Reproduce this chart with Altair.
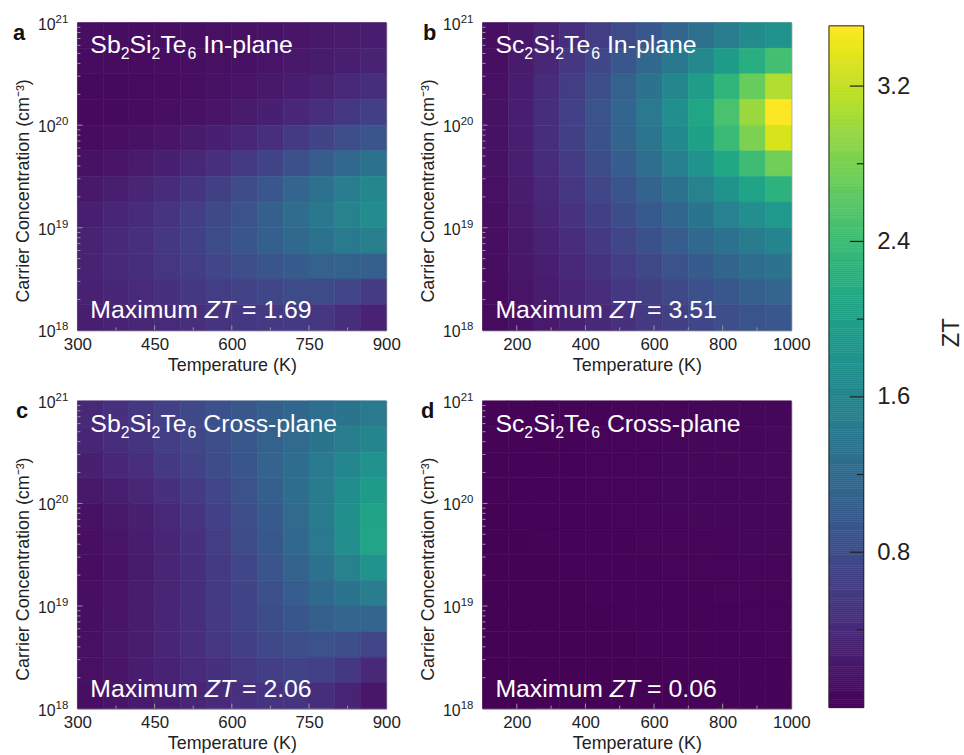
import altair as alt
import numpy as np
import pandas as pd

FONT = "Liberation Sans"
ZT_MAX = 3.51

# ---- data -------------------------------------------------------------
# cell centres: log10 carrier concentration (top row first)
logn_rows = [20.875, 20.625, 20.375, 20.125, 19.875, 19.625,
             19.375, 19.125, 18.875, 18.625, 18.375, 18.125]

# temperature cell centres (K)
temps_sb = [325, 375, 425, 475, 525, 575, 625, 675, 725, 775, 825, 875]
temps_sc = [137.5, 212.5, 287.5, 362.5, 437.5, 512.5,
            587.5, 662.5, 737.5, 812.5, 887.5, 962.5]

# ZT maps, one row per concentration, one column per temperature
zt_sb_in = [
    [0.12, 0.11, 0.11, 0.12, 0.13, 0.14, 0.15, 0.17, 0.19, 0.21, 0.24, 0.27],
    [0.10, 0.10, 0.10, 0.11, 0.12, 0.14, 0.16, 0.18, 0.21, 0.25, 0.29, 0.33],
    [0.08, 0.08, 0.09, 0.10, 0.12, 0.15, 0.18, 0.22, 0.27, 0.33, 0.40, 0.46],
    [0.07, 0.08, 0.10, 0.12, 0.15, 0.19, 0.24, 0.30, 0.38, 0.47, 0.56, 0.64],
    [0.10, 0.12, 0.15, 0.19, 0.24, 0.30, 0.38, 0.47, 0.58, 0.70, 0.82, 0.92],
    [0.15, 0.19, 0.24, 0.30, 0.38, 0.47, 0.58, 0.71, 0.86, 1.02, 1.18, 1.32],
    [0.22, 0.28, 0.35, 0.43, 0.53, 0.65, 0.79, 0.95, 1.12, 1.30, 1.48, 1.62],
    [0.28, 0.35, 0.43, 0.52, 0.63, 0.76, 0.90, 1.06, 1.23, 1.40, 1.56, 1.69],
    [0.32, 0.39, 0.47, 0.56, 0.66, 0.78, 0.91, 1.05, 1.19, 1.32, 1.43, 1.50],
    [0.33, 0.39, 0.46, 0.54, 0.62, 0.72, 0.82, 0.92, 1.01, 1.08, 1.10, 1.05],
    [0.31, 0.36, 0.42, 0.48, 0.55, 0.62, 0.68, 0.74, 0.78, 0.78, 0.72, 0.60],
    [0.28, 0.32, 0.37, 0.42, 0.47, 0.52, 0.56, 0.58, 0.58, 0.54, 0.46, 0.32],
]

zt_sc_in = [
    [0.12, 0.20, 0.32, 0.46, 0.62, 0.78, 0.95, 1.12, 1.30, 1.48, 1.66, 1.80],
    [0.13, 0.24, 0.38, 0.55, 0.74, 0.95, 1.17, 1.40, 1.65, 1.92, 2.20, 2.45],
    [0.14, 0.27, 0.43, 0.62, 0.84, 1.08, 1.34, 1.62, 1.94, 2.30, 2.70, 3.10],
    [0.15, 0.29, 0.46, 0.66, 0.89, 1.14, 1.42, 1.73, 2.08, 2.50, 2.98, 3.51],
    [0.15, 0.29, 0.46, 0.65, 0.87, 1.11, 1.38, 1.67, 2.00, 2.38, 2.82, 3.30],
    [0.15, 0.28, 0.43, 0.61, 0.81, 1.02, 1.26, 1.51, 1.79, 2.09, 2.42, 2.75],
    [0.14, 0.26, 0.40, 0.55, 0.72, 0.91, 1.11, 1.32, 1.55, 1.79, 2.03, 2.25],
    [0.13, 0.24, 0.36, 0.50, 0.65, 0.81, 0.98, 1.16, 1.35, 1.54, 1.72, 1.88],
    [0.12, 0.22, 0.33, 0.45, 0.58, 0.72, 0.87, 1.02, 1.17, 1.32, 1.46, 1.58],
    [0.11, 0.20, 0.29, 0.40, 0.51, 0.63, 0.76, 0.88, 1.01, 1.13, 1.24, 1.33],
    [0.10, 0.18, 0.26, 0.35, 0.45, 0.55, 0.65, 0.76, 0.86, 0.96, 1.05, 1.12],
    [0.09, 0.16, 0.23, 0.31, 0.39, 0.48, 0.57, 0.65, 0.74, 0.82, 0.89, 0.95],
]

zt_sb_cross = [
    [0.40, 0.48, 0.57, 0.66, 0.76, 0.86, 0.96, 1.06, 1.16, 1.26, 1.35, 1.42],
    [0.36, 0.44, 0.53, 0.63, 0.73, 0.84, 0.96, 1.08, 1.21, 1.35, 1.48, 1.58],
    [0.30, 0.38, 0.47, 0.57, 0.68, 0.80, 0.94, 1.09, 1.25, 1.43, 1.61, 1.77],
    [0.22, 0.29, 0.38, 0.48, 0.60, 0.73, 0.88, 1.05, 1.24, 1.46, 1.70, 1.92],
    [0.15, 0.21, 0.30, 0.40, 0.52, 0.66, 0.82, 1.00, 1.21, 1.46, 1.74, 2.03],
    [0.12, 0.18, 0.26, 0.36, 0.48, 0.62, 0.78, 0.96, 1.17, 1.42, 1.72, 2.06],
    [0.11, 0.17, 0.25, 0.35, 0.46, 0.59, 0.74, 0.91, 1.10, 1.32, 1.56, 1.80],
    [0.12, 0.18, 0.26, 0.35, 0.46, 0.58, 0.71, 0.86, 1.02, 1.19, 1.35, 1.48],
    [0.13, 0.19, 0.27, 0.36, 0.46, 0.57, 0.69, 0.81, 0.94, 1.05, 1.12, 1.12],
    [0.14, 0.20, 0.27, 0.36, 0.45, 0.55, 0.65, 0.75, 0.84, 0.88, 0.84, 0.72],
    [0.14, 0.19, 0.26, 0.33, 0.41, 0.49, 0.57, 0.64, 0.68, 0.66, 0.56, 0.40],
    [0.13, 0.18, 0.23, 0.29, 0.36, 0.42, 0.48, 0.52, 0.52, 0.46, 0.34, 0.20],
]

zt_sc_cross = [
    [0.03, 0.03, 0.03, 0.03, 0.03, 0.04, 0.04, 0.04, 0.04, 0.05, 0.05, 0.05],
    [0.03, 0.03, 0.03, 0.03, 0.04, 0.04, 0.04, 0.04, 0.05, 0.05, 0.05, 0.06],
    [0.03, 0.03, 0.03, 0.03, 0.04, 0.04, 0.04, 0.05, 0.05, 0.05, 0.06, 0.06],
    [0.03, 0.03, 0.03, 0.03, 0.04, 0.04, 0.04, 0.05, 0.05, 0.05, 0.05, 0.06],
    [0.02, 0.03, 0.03, 0.03, 0.03, 0.04, 0.04, 0.04, 0.05, 0.05, 0.05, 0.05],
    [0.02, 0.02, 0.03, 0.03, 0.03, 0.03, 0.04, 0.04, 0.04, 0.04, 0.05, 0.05],
    [0.02, 0.02, 0.02, 0.03, 0.03, 0.03, 0.03, 0.04, 0.04, 0.04, 0.04, 0.04],
    [0.02, 0.02, 0.02, 0.02, 0.03, 0.03, 0.03, 0.03, 0.03, 0.04, 0.04, 0.04],
    [0.02, 0.02, 0.02, 0.02, 0.02, 0.03, 0.03, 0.03, 0.03, 0.03, 0.04, 0.04],
    [0.02, 0.02, 0.02, 0.02, 0.02, 0.02, 0.03, 0.03, 0.03, 0.03, 0.03, 0.04],
    [0.01, 0.02, 0.02, 0.02, 0.02, 0.02, 0.02, 0.03, 0.03, 0.03, 0.03, 0.03],
    [0.01, 0.01, 0.02, 0.02, 0.02, 0.02, 0.02, 0.02, 0.03, 0.03, 0.03, 0.03],
]

# axis ticks
t_ticks_sb = [300, 450, 600, 750, 900]
t_major_sb = [450, 600, 750]
t_minor_sb = [375, 525, 675, 825]
t_ticks_sc = [200, 400, 600, 800, 1000]
t_major_sc = [200, 400, 600, 800]
t_minor_sc = [300, 500, 700, 900]
n_exponents = [18, 19, 20, 21]
n_major = [1e19, 1e20]
n_minor = [k * 10.0 ** e for e in (18, 19, 20) for k in range(2, 10)]
cbar_major = [0.8, 1.6, 2.4, 3.2]
cbar_minor = [0.4, 1.2, 2.0, 2.8]

# ---- layout constants --------------------------------------------------
PW, PH = 311, 310          # plot area of each panel
ROW_GAP, COL_GAP = 71, 97
TEXT = "#222222"
TICK = "#9a9a9a"

# Arial / Liberation Sans advance widths (1/1000 em) and the kerning pairs used
ADV = {"S": 667, "b": 556, "c": 500, "i": 222, "T": 611, "e": 556, " ": 278,
       "I": 278, "n": 556, "-": 333, "p": 556, "l": 222, "a": 556, "C": 722,
       "r": 333, "o": 556, "s": 500, "M": 833, "x": 500, "u": 556, "m": 833,
       "Z": 611, "=": 584, ".": 278}
for d in "0123456789":
    ADV[d] = 556
KERN = {"Te": -74}


def adv(s, size):
    units = sum(ADV.get(ch, 556) for ch in s)
    units += sum(KERN.get(s[i:i + 2], 0) for i in range(len(s) - 1))
    return units / 1000.0 * size


zscale = alt.Scale(scheme="viridis", domain=[0, ZT_MAX])


def text_piece(s, x, y, size, color="white", italic=False, bold=False):
    return alt.Chart(pd.DataFrame({"s": [s]})).mark_text(
        align="left", baseline="alphabetic", font=FONT, fontSize=size,
        fontStyle="italic" if italic else "normal",
        fontWeight="bold" if bold else "normal", color=color,
    ).encode(x=alt.value(x), y=alt.value(y), text="s:N")


def run_of_text(segments, x0, y0, size, sub_size, sub_shift):
    """Lay out a line made of (text, kind) pieces; kind: 'n', 'sub', 'it'."""
    layers, x = [], x0
    for s, kind in segments:
        fs = sub_size if kind == "sub" else size
        while s.startswith(" "):
            x += adv(" ", fs)
            s = s[1:]
        y = y0 + (sub_shift if kind == "sub" else 0)
        layers.append(text_piece(s, x, y, fs, italic=(kind == "it")))
        x += adv(s, fs)
    return layers


def heat_frame(temps, grid):
    dt = temps[1] - temps[0]
    recs = []
    for logn, row in zip(logn_rows, grid):
        for t, z in zip(temps, row):
            recs.append({"t0": t - dt / 2, "t1": t + dt / 2,
                         "n0": 10 ** (logn - 0.125), "n1": 10 ** (logn + 0.125),
                         "zt": z})
    return pd.DataFrame(recs)


def colorbar_layers():
    """Vertical ZT colour bar drawn to the right of the top-right panel."""
    x0 = 349                      # left edge, relative to the panel
    w = 35
    top, bottom = 3.3, 690.0      # pixel rows of ZT_MAX and 0
    edges = np.linspace(0, ZT_MAX, 352)
    ramp = pd.DataFrame({"lo": edges[:-1], "hi": edges[1:],
                         "mid": (edges[:-1] + edges[1:]) / 2})
    ys = alt.Scale(domain=[0, ZT_MAX], range=[bottom, top], nice=False,
                   zero=False)
    axis = alt.Axis(orient="right", offset=x0 + w - PW, values=cbar_major,
                    format=".1f", ticks=False, domain=False, grid=False,
                    labelFont=FONT, labelFontSize=24, labelColor=TEXT,
                    labelPadding=13, title="ZT", titleFont=FONT,
                    titleFontSize=24, titleFontWeight="normal",
                    titleColor=TEXT, titleAngle=270, titleAlign="center",
                    titleBaseline="alphabetic", titleX=95, titleY=312)
    ramp_l = alt.Chart(ramp).mark_rect(strokeWidth=0.6).encode(
        y=alt.Y("lo:Q", scale=ys, axis=axis), y2="hi:Q",
        x=alt.value(x0), x2=alt.value(x0 + w),
        color=alt.Color("mid:Q", scale=zscale, legend=None),
        stroke=alt.Stroke("mid:Q", scale=zscale, legend=None),
    )
    frame = alt.Chart(pd.DataFrame({"lo": [0.0], "hi": [ZT_MAX]})).mark_rect(
        fillOpacity=0, stroke="#222222", strokeWidth=1).encode(
        y="lo:Q", y2="hi:Q", x=alt.value(x0), x2=alt.value(x0 + w))
    major = alt.Chart(pd.DataFrame({"lo": cbar_major})).mark_rule(
        color="#222222", strokeWidth=1.2).encode(
        y="lo:Q", x=alt.value(x0 + w - 14), x2=alt.value(x0 + w))
    minor = alt.Chart(pd.DataFrame({"lo": cbar_minor})).mark_rule(
        color="#222222", strokeWidth=1.2).encode(
        y="lo:Q", x=alt.value(x0 + w - 7), x2=alt.value(x0 + w))
    return alt.layer(ramp_l, frame, major, minor)


def panel(letter, letter_dx, formula, plane, zt_max_text, temps, grid,
          t_dom, t_ticks, t_major, t_minor, with_colorbar=False):
    xs = alt.Scale(domain=t_dom, nice=False, zero=False)
    ys = alt.Scale(type="log", domain=[1e18, 1e21], nice=False)
    x_axis = alt.Axis(values=t_ticks, format="d", ticks=False, domain=False,
                      grid=False, labelFontSize=17, labelFont=FONT,
                      labelColor=TEXT, labelPadding=19,
                      labelBaseline="alphabetic", labelFlush=False,
                      labelOverlap=False, title="Temperature (K)",
                      titleFont=FONT, titleFontSize=18,
                      titleFontWeight="normal", titleColor=TEXT,
                      titleBaseline="alphabetic", titleY=40)
    y_axis = alt.Axis(labels=False, ticks=False, domain=False, grid=False,
                      title="Carrier Concentration (cm⁻³)", titleFont=FONT,
                      titleFontSize=18, titleFontWeight="normal",
                      titleColor=TEXT, titleAngle=270, titleAlign="center",
                      titleBaseline="alphabetic", titleX=-49, titleY=169)

    heat = alt.Chart(heat_frame(temps, grid)).mark_rect(strokeWidth=0.6).encode(
        x=alt.X("t0:Q", scale=xs, axis=x_axis),
        x2="t1:Q",
        y=alt.Y("n0:Q", scale=ys, axis=y_axis),
        y2="n1:Q",
        color=alt.Color("zt:Q", scale=zscale, legend=None),
        stroke=alt.Stroke("zt:Q", scale=zscale, legend=None),
    )

    def xticks(vals, length):
        return alt.Chart(pd.DataFrame({"t0": vals})).mark_rule(
            color=TICK, strokeWidth=1).encode(
            x="t0:Q", y=alt.value(PH), y2=alt.value(PH - length))

    def yticks(vals, length):
        return alt.Chart(pd.DataFrame({"n0": vals})).mark_rule(
            color=TICK, strokeWidth=1).encode(
            y="n0:Q", x=alt.value(0), x2=alt.value(length))

    ylab = pd.DataFrame({"n0": [10.0 ** e for e in n_exponents],
                         "base": ["10"] * len(n_exponents),
                         "sup": [str(e) for e in n_exponents]})
    ylab_base = alt.Chart(ylab).mark_text(
        align="right", baseline="alphabetic", dy=7, font=FONT, fontSize=16,
        color=TEXT).encode(y="n0:Q", x=alt.value(-22), text="base:N")
    ylab_sup = alt.Chart(ylab).mark_text(
        align="left", baseline="alphabetic", dy=0, font=FONT, fontSize=11.5,
        color=TEXT).encode(y="n0:Q", x=alt.value(-22), text="sup:N")

    el = formula[:2]
    title_segs = [(el, "n"), ("2", "sub"), ("Si", "n"), ("2", "sub"),
                  ("Te", "n"), ("6", "sub"), (" " + plane, "n")]
    max_segs = [("Maximum", "n"), (" ZT", "it"), (" = " + zt_max_text, "n")]

    layers = [heat, xticks(t_major, 5), xticks(t_minor, 3),
              yticks(n_major, 5), yticks(n_minor, 3), ylab_base, ylab_sup]
    layers += run_of_text(title_segs, 13, 31, 25, 16, 6)
    layers += run_of_text(max_segs, 13, 298, 25, 16, 6)
    layers.append(text_piece(letter, letter_dx, 17.5, 22, color="#111111",
                             bold=True))
    body = alt.layer(*layers)
    if with_colorbar:
        body = alt.layer(body, colorbar_layers()).resolve_scale(
            y="independent")
    return body.properties(width=PW, height=PH)


pa = panel("a", -65, "Sb2Si2Te6", "In-plane", "1.69", temps_sb, zt_sb_in,
           [300, 900], t_ticks_sb, t_major_sb, t_minor_sb)
pb = panel("b", -60, "Sc2Si2Te6", "In-plane", "3.51", temps_sc, zt_sc_in,
           [100, 1000], t_ticks_sc, t_major_sc, t_minor_sc,
           with_colorbar=True)
pc = panel("c", -62, "Sb2Si2Te6", "Cross-plane", "2.06", temps_sb, zt_sb_cross,
           [300, 900], t_ticks_sb, t_major_sb, t_minor_sb)
pd_ = panel("d", -62, "Sc2Si2Te6", "Cross-plane", "0.06", temps_sc, zt_sc_cross,
            [100, 1000], t_ticks_sc, t_major_sc, t_minor_sc)

chart = alt.concat(
    pa, pb, pc, pd_, columns=2,
    spacing={"row": ROW_GAP, "column": COL_GAP}, bounds="flush",
).resolve_scale(
    x="independent", y="independent"
).properties(
    padding={"left": 12, "top": 10, "right": 0, "bottom": 0},
    background="white",
).configure_view(stroke="#7f7f7f", strokeWidth=1)

chart.save("out.html", embed_options={"renderer": "svg", "actions": False})
